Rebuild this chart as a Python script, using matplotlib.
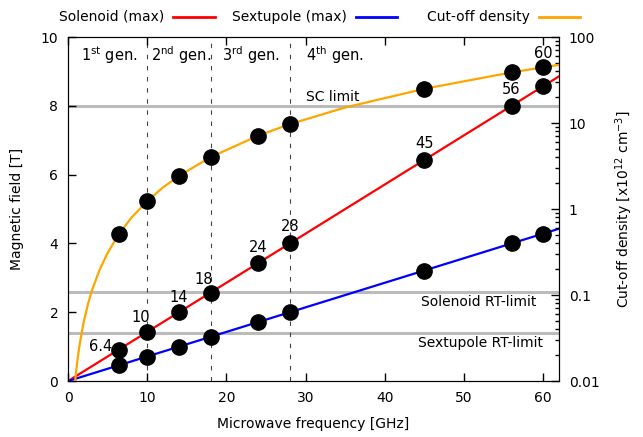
import numpy as np
import matplotlib.pyplot as plt
from matplotlib.lines import Line2D
from matplotlib.ticker import FixedLocator, LogLocator, NullFormatter

plt.rcParams['font.family'] = ['DejaVu Sans']
plt.rcParams['font.size'] = 10

# marker points (frequency in GHz)
freq = [6.4, 10, 14, 18, 24, 28, 45, 56, 60]
sol_B = [0.91, 1.43, 2.0, 2.57, 3.43, 4.0, 6.43, 8.0, 8.57]
sext_B = [0.46, 0.71, 1.0, 1.29, 1.71, 2.0, 3.21, 4.0, 4.29]
dens = [0.51, 1.24, 2.43, 4.02, 7.14, 9.72, 25.1, 38.9, 44.6]
point_labels = ["6.4", "10", "14", "18", "24", "28", "45", "56", "60"]

# lines
line_f = [0, 62]
sol_line = [0, 8.86]
sext_line = [0, 4.43]
curve_f = [0.9, 1, 1.25, 1.5, 2, 2.5, 3, 4, 5, 6.4, 8, 10, 12, 14, 18, 24, 28, 35, 45, 56, 62]
curve_n = [0.01, 0.0124, 0.0194, 0.0279, 0.0496, 0.0775, 0.112, 0.198, 0.31, 0.508,
           0.794, 1.24, 1.79, 2.43, 4.02, 7.14, 9.72, 15.2, 25.1, 38.9, 47.7]

limits = [8.0, 2.6, 1.4]
gen_bounds = [10, 18, 28]

W, H = 643, 437
fig = plt.figure(figsize=(W / 100, H / 100), dpi=100)
ax = fig.add_axes([0.1058, 0.128, 0.7636, 0.787])
ax2 = ax.twinx()

grey = '#bbbbbb'
for y in limits:
    ax.plot([0, 62], [y, y], color=grey, lw=2.2, zorder=1)
for x in gen_bounds:
    ax.plot([x, x], [0, 10], color='#444444', lw=0.8, ls=(0, (4, 6)), zorder=1)

ax.plot(line_f, sol_line, color='red', lw=1.6, zorder=2)
ax.plot(line_f, sext_line, color='blue', lw=1.6, zorder=2)
ax.plot(freq, sol_B, 'o', color='black', ms=11, zorder=4)
ax.plot(freq, sext_B, 'o', color='black', ms=11, zorder=4)

ax2.plot(curve_f, curve_n, color='orange', lw=1.6, zorder=2)
ax2.plot(freq, dens, 'o', color='black', ms=11, zorder=4)

# point labels (offsets in points)
offsets = [(-13, 2), (-5, 10), (0, 11), (-5, 9.5), (0, 11.5), (0, 12), (0, 11.5), (0, 12)]
for f, b, lab, off in zip(freq[:-1], sol_B[:-1], point_labels[:-1], offsets):
    ax.annotate(lab, (f, b), xytext=off, textcoords='offset points',
                ha='center', va='center', fontsize=10.5)
ax2.annotate(point_labels[-1], (freq[-1], dens[-1]), xytext=(0, 10), textcoords='offset points',
             ha='center', va='center', fontsize=10.5)

# text labels
ax.text(1.6, 9.48, '1$^{\\mathrm{st}}$ gen.', ha='left', va='center', fontsize=10.5)
ax.text(10.5, 9.48, '2$^{\\mathrm{nd}}$ gen.', ha='left', va='center', fontsize=10.5)
ax.text(19.4, 9.48, '3$^{\\mathrm{rd}}$ gen.', ha='left', va='center', fontsize=10.5)
ax.text(30, 9.48, '4$^{\\mathrm{th}}$ gen.', ha='left', va='center', fontsize=10.5)
ax.text(30, 8.27, 'SC limit', ha='left', va='center', fontsize=10)
ax.text(59.2, 2.3, 'Solenoid RT-limit', ha='right', va='center', fontsize=10)
ax.text(60, 1.1, 'Sextupole RT-limit', ha='right', va='center', fontsize=10)

ax.set_xlim(0, 62)
ax.set_ylim(0, 10)
ax2.set_yscale('log')
ax2.set_ylim(0.01, 100)

ax.set_xticks([0, 10, 20, 30, 40, 50, 60])
ax.set_yticks([0, 2, 4, 6, 8, 10])
ax.tick_params(direction='in', length=6, width=1, top=True, right=False, pad=7)
ax2.tick_params(which='major', direction='in', length=6, width=1, pad=7)
ax2.tick_params(which='minor', direction='in', length=3, width=1)
ax2.yaxis.set_major_locator(FixedLocator([0.01, 0.1, 1, 10, 100]))
ax2.set_yticklabels(['0.01', '0.1', '1', '10', '100'])
ax2.yaxis.set_minor_locator(LogLocator(base=10, subs=np.arange(2, 10)))
ax2.yaxis.set_minor_formatter(NullFormatter())

ax.set_xlabel('Microwave frequency [GHz]', labelpad=9)
ax.set_ylabel('Magnetic field [T]', labelpad=12)
ax2.set_ylabel('Cut-off density [x10$^{12}$ cm$^{-3}$]', labelpad=10)

# key at the top: text, then line sample
key_labels = ['Solenoid (max)', 'Sextupole (max)', 'Cut-off density']
key_colors = ['red', 'blue', 'orange']
key_text_end = [164, 347, 530]
key_line = [(173, 215), (356, 397), (539, 580)]
ky = 1 - 17 / H
for lab, col, xe, (x0, x1) in zip(key_labels, key_colors, key_text_end, key_line):
    fig.text(xe / W, ky, lab, ha='right', va='center', fontsize=10)
    fig.add_artist(Line2D([x0 / W, x1 / W], [ky, ky], color=col, lw=2,
                          transform=fig.transFigure))

fig.savefig('out.png', dpi=100)
